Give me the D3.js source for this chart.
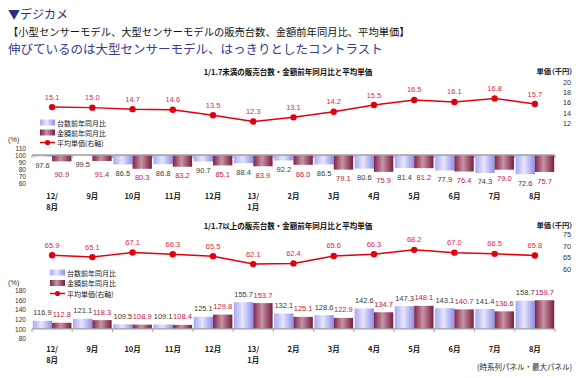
<!DOCTYPE html>
<html><head><meta charset="utf-8">
<script src="https://cdn.jsdelivr.net/npm/d3@7"></script>
<style>
body{margin:0;background:#fff}
svg{display:block}
text{font-family:"Liberation Sans","Noto Sans CJK JP",sans-serif}
.jp{font-family:"Noto Sans CJK JP",sans-serif}
.palt{font-feature-settings:"palt" 1}
</style>
</head><body>
<svg id="c" width="580" height="378"></svg>
<script>
// ---- data ----
const months = ["12/|8月","9月","10月","11月","12月","13/|1月","2月","3月","4月","5月","6月","7月","8月"];
const seriesNames = ["台数前年同月比","金額前年同月比","平均単価(右軸)"];

const smallTitle = "1/1.7未満の販売台数・金額前年同月比と平均単価";
const smallPrice = [15.1,15.0,14.7,14.6,13.5,12.3,13.1,14.2,15.5,16.5,16.1,16.8,15.7];
const smallUnits = [97.6,99.5,86.5,86.8,90.7,88.4,92.2,86.5,80.6,81.4,77.9,74.3,72.6];
const smallValue = [90.9,91.4,80.3,83.2,85.1,83.9,86.0,79.1,75.9,81.2,76.4,79.0,75.7];
const smallPriceTicks = [12,14,16,18,20];
const smallPctTicks = [60,70,80,90,100,110];

const largeTitle = "1/1.7以上の販売台数・金額前年同月比と平均単価";
const largePrice = [65.9,65.1,67.1,66.3,65.5,62.1,62.4,65.6,66.3,68.2,67.0,66.5,65.8];
const largeUnits = [116.9,121.1,109.5,109.1,125.1,155.7,132.1,128.6,142.6,147.3,143.1,141.4,158.7];
const largeValue = [112.8,118.3,108.9,108.4,129.8,153.7,125.1,122.9,134.7,148.1,140.7,136.6,159.7];
const largePriceTicks = [60,65,70,75];
const largePctTicks = [80,100,120,140,160,180];

// ---- drawing ----
const svg = d3.select("#c");
svg.append("rect").attr("width",580).attr("height",378).attr("fill","#fff");

const defs = svg.append("defs");
function grad(id, stops){
  const g = defs.append("linearGradient").attr("id",id).attr("x1","0").attr("x2","1").attr("y1","0").attr("y2","0");
  stops.forEach(s=>g.append("stop").attr("offset",s[0]).attr("stop-color",s[1]));
}
grad("gBlue", [["0%","#a9a9f2"],["45%","#e6e6ff"],["100%","#8e8eea"]]);
grad("gRed", [["0%","#7e2448"],["45%","#c994a6"],["100%","#781c40"]]);

// header
svg.append("text").attr("class","jp").attr("x",8).attr("y",13).attr("dominant-baseline","central")
  .attr("font-size",12).attr("fill","#26307e").text("▼デジカメ");
svg.append("text").attr("class","jp").attr("x",8).attr("y",31).attr("dominant-baseline","central")
  .attr("font-size",10.3).attr("fill","#111").text("【小型センサーモデル、大型センサーモデルの販売台数、金額前年同月比、平均単価】");
svg.append("text").attr("class","jp").attr("x",8).attr("y",48).attr("dominant-baseline","central")
  .attr("font-size",12.5).attr("fill","#3a3a96").text("伸びているのは大型センサーモデル、はっきりとしたコントラスト");

const x = d3.scaleBand().domain(months).range([32,555]).paddingInner(0.04).paddingOuter(0.02);
const xs = d3.scaleBand().domain([0,1]).range([0,x.bandwidth()]);

function panel(cfg){
  const g = svg.append("g");
  const yP = d3.scaleLinear().domain(cfg.priceDomain).range(cfg.priceRange);
  const yB = d3.scaleLinear().domain(cfg.pctDomain).range(cfg.pctRange);
  const cx = m => x(m) + x.bandwidth()/2;

  // title
  g.append("text").attr("class","jp").attr("x",288).attr("y",cfg.titleY).attr("text-anchor","middle")
    .attr("dominant-baseline","central").attr("font-size",7.5).attr("font-weight","bold").attr("fill","#111").text(cfg.title);
  g.append("text").attr("class","jp palt").attr("x",573).attr("y",cfg.titleY).attr("text-anchor","end").attr("dominant-baseline","central")
    .attr("font-size",7.3).attr("font-weight","bold").attr("fill","#222").text("単価（千円）");

  // right axis
  const ra = g.append("g").attr("transform","translate(563,0)")
    .call(d3.axisRight(yP).tickValues(cfg.priceTicks).tickSize(0).tickPadding(0));
  ra.select(".domain").remove();
  ra.selectAll("text").attr("font-size",7.3).attr("fill","#333").attr("font-family","Liberation Sans");

  // left axis
  const la = g.append("g").attr("transform","translate(26,0)")
    .call(d3.axisLeft(yB).tickValues(cfg.pctTicks).tickSize(0).tickPadding(0));
  la.select(".domain").remove();
  la.selectAll("text").attr("font-size",6.6).attr("fill","#333").attr("font-family","Liberation Sans");
  g.append("text").attr("x",8).attr("y",cfg.pctLabelY).attr("dominant-baseline","central")
    .attr("font-size",7.3).attr("fill","#333").text("(%)");

  // bars
  const base = yB(100);
  const series = [{vals:cfg.units, fill:"url(#gBlue)", lab:"#3a3a3a"},{vals:cfg.values, fill:"url(#gRed)", lab:"#c0203e"}];
  series.forEach((s,si)=>{
    g.selectAll(null).data(s.vals).enter().append("rect")
      .attr("x",(v,i)=>x(months[i])+xs(si)).attr("width",xs.bandwidth())
      .attr("y",v=>Math.min(yB(v),base)).attr("height",v=>Math.abs(yB(v)-base))
      .attr("fill",s.fill);
  });
  // axis line at 100
  g.append("line").attr("x1",x.range()[0]).attr("x2",x.range()[1]).attr("y1",base).attr("y2",base)
    .attr("stroke","#a0a0a0").attr("stroke-width",1.3);
  d3.range(months.length+1).forEach(i=>{
    const xx = x.range()[0] + i*(x.range()[1]-x.range()[0])/months.length;
    g.append("line").attr("x1",xx).attr("x2",xx).attr("y1",base).attr("y2",base+3)
      .attr("stroke","#a0a0a0").attr("stroke-width",1);
  });
  // bar labels
  series.forEach((s,si)=>{
    g.selectAll(null).data(s.vals).enter().append("text")
      .attr("x",(v,i)=>x(months[i])+xs(si)+xs.bandwidth()/2)
      .attr("y",v=>{
        if(v<100){ const vv = si===1?Math.min(v,85):v; return yB(vv)+9; }
        return yB(v)-8;
      })
      .attr("text-anchor","middle").attr("dominant-baseline","central")
      .attr("font-size",7.5).attr("fill",s.lab).text(v=>v.toFixed(1));
  });

  // month labels
  months.forEach(m=>{
    const parts = m.split("|");
    parts.forEach((p,k)=>{
      g.append("text").attr("class","jp").attr("x",cx(m)).attr("y",cfg.monthY + k*11)
        .attr("text-anchor","middle").attr("dominant-baseline","central")
        .attr("font-size",7.5).attr("font-weight","bold").attr("fill","#222").text(p);
    });
  });

  // line
  const line = d3.line().x((v,i)=>cx(months[i])).y(v=>yP(v));
  g.append("path").datum(cfg.price).attr("d",line).attr("fill","none").attr("stroke","#e2000f").attr("stroke-width",1.5);
  g.selectAll(null).data(cfg.price).enter().append("circle")
    .attr("cx",(v,i)=>cx(months[i])).attr("cy",v=>yP(v)).attr("r",3.2).attr("fill","#e2000f");
  g.selectAll(null).data(cfg.price).enter().append("text")
    .attr("x",(v,i)=>cx(months[i])).attr("y",v=>yP(v)-10)
    .attr("text-anchor","middle").attr("dominant-baseline","central")
    .attr("font-size",7.5).attr("fill","#e0284a").text(v=>v.toFixed(1));

  // legend
  const lx = cfg.legendX;
  [ "url(#gBlue)","url(#gRed)" ].forEach((f,k)=>{
    g.append("rect").attr("x",lx).attr("y",cfg.legendY[k]-3).attr("width",15).attr("height",6).attr("fill",f);
  });
  g.append("line").attr("x1",lx).attr("x2",lx+15).attr("y1",cfg.legendY[2]).attr("y2",cfg.legendY[2])
    .attr("stroke","#e2000f").attr("stroke-width",1.5);
  g.append("circle").attr("cx",lx+7.5).attr("cy",cfg.legendY[2]).attr("r",2.6).attr("fill","#e2000f");
  seriesNames.forEach((n,k)=>{
    g.append("text").attr("class","jp").attr("x",lx+17).attr("y",cfg.legendY[k]).attr("dominant-baseline","central")
      .attr("font-size",7).attr("fill","#222").text(n);
  });
}

panel({title:smallTitle, titleY:71, price:smallPrice, units:smallUnits, values:smallValue,
  priceDomain:[12,20], priceRange:[123,82], priceTicks:smallPriceTicks,
  pctDomain:[60,110], pctRange:[183,148], pctTicks:smallPctTicks, pctLabelY:139,
  legendX:40, legendY:[122.5,132.5,142.5], monthY:195});

panel({title:largeTitle, titleY:225, price:largePrice, units:largeUnits, values:largeValue,
  priceDomain:[60,75], priceRange:[269,234], priceTicks:largePriceTicks,
  pctDomain:[80,180], pctRange:[338.5,290.5], pctTicks:largePctTicks, pctLabelY:282,
  legendX:50, legendY:[272.5,283,293.5], monthY:348});

svg.append("text").attr("class","jp").attr("x",572).attr("y",366).attr("text-anchor","end")
  .attr("dominant-baseline","central").attr("font-size",7.5).attr("fill","#222").text("(時系列パネル・最大パネル)");
</script>
</body></html>
